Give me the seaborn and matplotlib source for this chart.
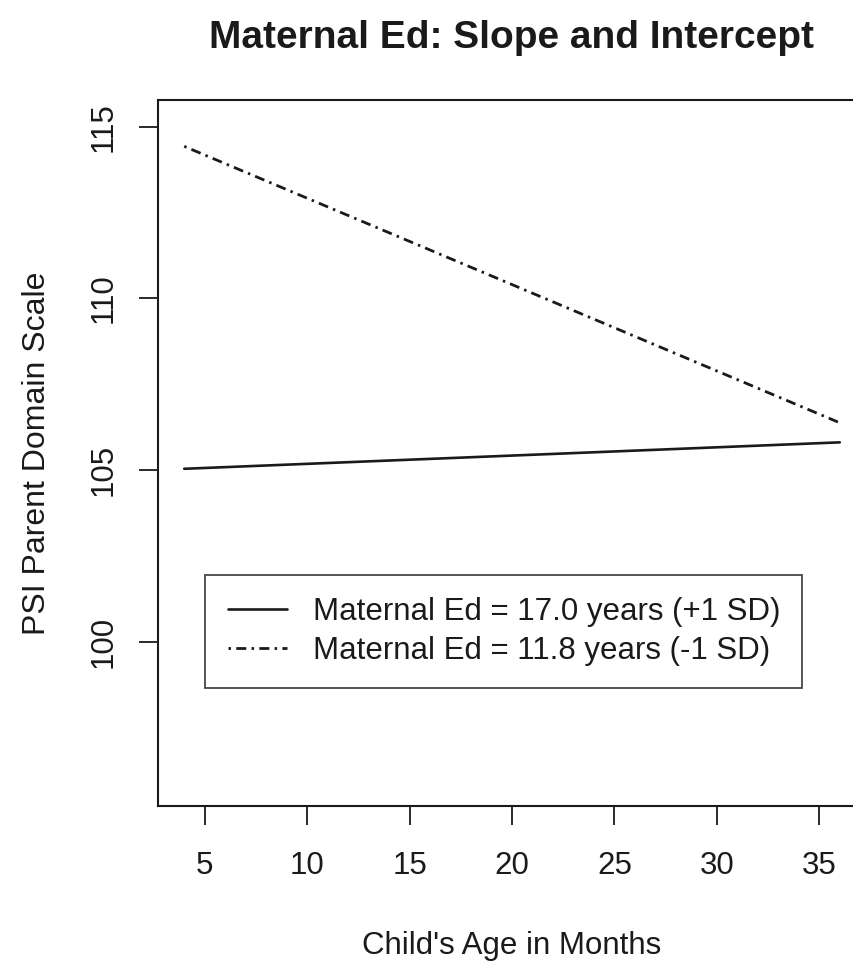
import pandas as pd
import seaborn as sns
import matplotlib.pyplot as plt

# child's age (months) and predicted PSI parent domain score
months = [4, 36]
psi_high_ed = [105.04, 105.81]   # maternal ed +1 SD
psi_low_ed = [114.43, 106.38]    # maternal ed -1 SD
labels = ['Maternal Ed = 17.0 years (+1 SD)', 'Maternal Ed = 11.8 years (-1 SD)']

sns.set_style('white')
plt.rcParams['font.family'] = ['Liberation Sans', 'DejaVu Sans']

df = pd.DataFrame({
    'age': months * 2,
    'psi': psi_high_ed + psi_low_ed,
    'group': [labels[0]] * len(months) + [labels[1]] * len(months),
})

fig = plt.figure(figsize=(8.54, 9.63), dpi=100)
ax = fig.add_axes([158 / 854, 157 / 963, 708 / 854, 706 / 963])

sns.lineplot(data=df[df['group'] == labels[0]], x='age', y='psi', color='#1a1a1a',
             lw=1.9, ax=ax, label=labels[0])
sns.lineplot(data=df[df['group'] == labels[1]], x='age', y='psi', color='#1a1a1a',
             lw=2.0, ls=(0, (0.9, 1.9, 3.6, 1.9)), ax=ax, label=labels[1])

ax.set_xlim(2.72, 37.28)
ax.set_ylim(95.22, 115.78)
ax.set_xticks([5, 10, 15, 20, 25, 30, 35])
ax.set_yticks([100, 105, 110, 115])
for s in ax.spines.values():
    s.set_color('#1a1a1a')
    s.set_linewidth(1.5)
ax.tick_params(axis='both', direction='out', length=13.5, width=1.3, color='#1a1a1a',
               labelsize=22.5, labelcolor='#1a1a1a', left=True, bottom=True)
ax.tick_params(axis='x', pad=19)
ax.tick_params(axis='y', pad=15)
for t in ax.get_yticklabels():
    t.set_rotation(90)
    t.set_va('center')

ax.set_xlabel("Child's Age in Months", fontsize=22.5, color='#1a1a1a', labelpad=36)
ax.set_ylabel('PSI Parent Domain Scale', fontsize=23, color='#1a1a1a', labelpad=26)
fig.text(512 / 854, 1 - 38 / 963, 'Maternal Ed: Slope and Intercept', ha='center',
         va='center', fontsize=28, fontweight='bold', color='#1a1a1a')

leg = ax.legend(loc='center', bbox_to_anchor=(0.0664, 0.1657, 0.8432, 0.1629),
                mode='expand', fontsize=22.5, frameon=True, fancybox=False,
                handlelength=1.9, handletextpad=0.84, labelspacing=0.27,
                borderpad=0.72, borderaxespad=0)
leg.get_frame().set_edgecolor('#1a1a1a')
leg.get_frame().set_linewidth(1.3)
for t in leg.get_texts():
    t.set_color('#1a1a1a')

fig.savefig('out.png', dpi=100)
